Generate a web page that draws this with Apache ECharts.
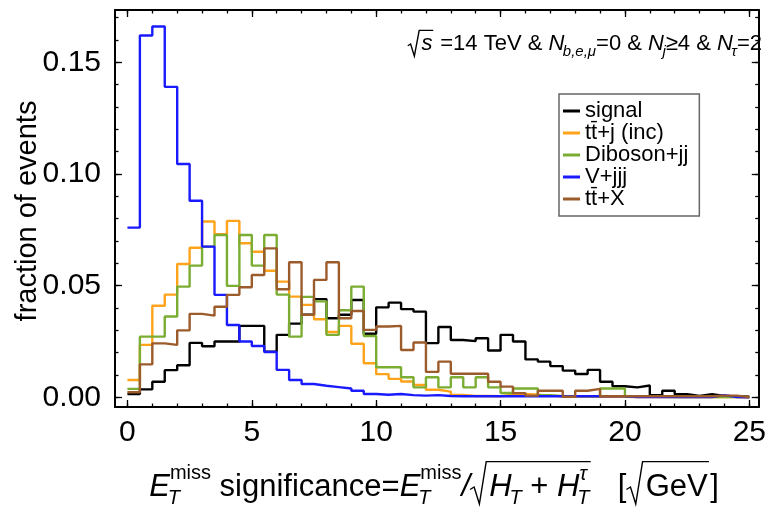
<!DOCTYPE html>
<html>
<head>
<meta charset="utf-8">
<script src="https://cdn.jsdelivr.net/npm/echarts@6/dist/echarts.min.js"></script>
<style>
html, body { margin: 0; padding: 0; background: #fff; }
#chart { width: 769px; height: 515px; }
</style>
</head>
<body>
<div id="chart"></div>
<script>
// histogram bins: 50 bins of width 0.5 starting at 0
const binWidth = 0.5;

const signal = [0.0015, 0.0036, 0.007, 0.0122, 0.0144, 0.0244, 0.0229, 0.025, 0.025, 0.032,
  0.032, 0.0205, 0.028, 0.033, 0.037, 0.044, 0.0354, 0.037, 0.0436, 0.0285,
  0.0403, 0.0424, 0.0395, 0.0384, 0.0243, 0.0315, 0.0257, 0.0252, 0.0265, 0.021,
  0.028, 0.025, 0.017, 0.016, 0.014, 0.012, 0.0105, 0.0123, 0.007, 0.005,
  0.0045, 0.0053, 0.001, 0.003, 0.0014, 0.0007, 0.0014, 0.0007, 0.0005, 0.0003];

const ttj = [0.0078, 0.0235, 0.041, 0.046, 0.0597, 0.067, 0.0787, 0.073, 0.079, 0.069,
  0.0652, 0.0567, 0.0518, 0.0451, 0.0414, 0.035, 0.0293, 0.032, 0.024, 0.0153,
  0.0104, 0.0083, 0.0071, 0.0056, 0.0034, 0.0026, 0.0011, 0.0006, 0.0006, 0.0005,
  0.0012, 0.0015, 0.0012, 0.0008, 0.0005, 0.0003, 0.0003, 0.0003, 0.0003, 0.0003,
  0.0002, 0.0002, 0.0002, 0.0002, 0.0002, 0.0001, 0.0001, 0.0001, 0.0001, 0];

const diboson = [0.0038, 0.0272, 0.0272, 0.0362, 0.0496, 0.059, 0.0675, 0.0727, 0.0499, 0.0727,
  0.059, 0.0727, 0.046, 0.0272, 0.045, 0.043, 0.028, 0.039, 0.0496, 0.0275,
  0.0135, 0.0135, 0.009, 0.0045, 0.009, 0.0045, 0.009, 0.0045, 0.009, 0.0045,
  0.002, 0.004, 0.004, 0.001, 0.0005, 0.0005, 0.0005, 0.0005, 0.004, 0.004,
  0.0003, 0.0003, 0.0003, 0.0002, 0.0002, 0.0002, 0.0002, 0.0002, 0.0002, 0.0001];

const vjjj = [0.076, 0.162, 0.166, 0.139, 0.1045, 0.088, 0.0675, 0.0459, 0.0324, 0.025,
  0.023, 0.0203, 0.0123, 0.0078, 0.006, 0.0052, 0.0046, 0.004, 0.003, 0.0015,
  0.0012, 0.0015, 0.001, 0.0008, 0.001, 0.0006, 0.0005, 0.0005, 0.0005, 0.0005,
  0.0005, 0.0005, 0.0005, 0.0005, 0.0005, 0.0005, 0.0005, 0.0005, 0.0005, 0.0005,
  0.0002, 0.0002, 0.0002, 0.0002, 0.0002, 0.0002, 0.0002, 0.001, 0.0002, 0];

const ttx = [0.0023, 0.0148, 0.0242, 0.0235, 0.030, 0.0374, 0.0366, 0.0406, 0.0459, 0.0493,
  0.0548, 0.0667, 0.0484, 0.0605, 0.037, 0.0526, 0.0605, 0.0354, 0.0387, 0.0302,
  0.0317, 0.032, 0.0212, 0.0246, 0.0114, 0.016, 0.0106, 0.0106, 0.0106, 0.007,
  0.0048, 0.0019, 0.0008, 0.003, 0.003, 0.0003, 0.003, 0.0038, 0.0005, 0.0005,
  0.0005, 0.0005, 0.0005, 0.0005, 0.0005, 0.0005, 0.0005, 0.0008, 0.0008, 0.0002];

const seriesNames = ['signal', 'tt\u0304+j (inc)', 'Diboson+jj', 'V+jjj', 'tt\u0304+X'];
const seriesColors = ['#000000', '#ffa31a', '#7aad32', '#1a1aff', '#9c5b2b'];
const seriesValues = [signal, ttj, diboson, vjjj, ttx];

const xMajor = [0, 5, 10, 15, 20, 25];
const xMinor = [0, 1, 2, 3, 4, 5, 6, 7, 8, 9, 10, 11, 12, 13, 14, 15, 16, 17, 18, 19, 20, 21, 22, 23, 24, 25];
const yMajor = [0, 0.05, 0.1, 0.15];
const yMinor = [0, 0.01, 0.02, 0.03, 0.04, 0.05, 0.06, 0.07, 0.08, 0.09, 0.1, 0.11, 0.12, 0.13, 0.14, 0.15, 0.16, 0.17];

const FONT = '"Liberation Sans", Arial, sans-serif';

// step outline: hold each bin value to the next edge, drop to 0 at the end
function stepData(vals) {
  const pts = vals.map((v, i) => [i * binWidth, v]);
  pts.push([vals.length * binWidth, 0]);
  return pts;
}

// --- small math-text layout for axis title and annotation ---
const ctx = document.createElement('canvas').getContext('2d');
function fontStr(size, it) { return (it ? 'italic ' : '') + size + 'px ' + FONT; }
function measure(t, size, it) { ctx.font = fontStr(size, it); return ctx.measureText(t).width; }

function mathText(tokens, size, anchorX, yc, align, radTop) {
  const parts = [];
  const rads = [];
  const subSize = Math.round(size * 0.66);
  let x = 0, radStart = 0;
  tokens.forEach(tk => {
    if (tk.rad === 'open') { radStart = x; x += size * 0.62; return; }
    if (tk.rad === 'close') { rads.push([radStart, x + size * 0.04]); x += size * 0.08; return; }
    parts.push({ t: tk.t, x: x, dy: 0, size: size, it: tk.it });
    x += measure(tk.t, size, tk.it);
    let extra = 0;
    if (tk.sub) {
      parts.push({ t: tk.sub, x: x - (tk.it ? size * 0.07 : 0), dy: size * 0.36, size: subSize, it: true });
      extra = Math.max(extra, measure(tk.sub, subSize, true) - (tk.it ? size * 0.07 : 0));
    }
    if (tk.sup) {
      parts.push({ t: tk.sup, x: x, dy: -size * 0.42, size: subSize, it: !!tk.supIt });
      extra = Math.max(extra, measure(tk.sup, subSize, !!tk.supIt));
    }
    x += extra;
  });
  const x0 = align === 'right' ? anchorX - x : (align === 'center' ? anchorX - x / 2 : anchorX);
  const els = parts.map(p => ({
    type: 'text',
    style: { text: p.t, x: x0 + p.x, y: yc + p.dy, font: fontStr(p.size, p.it), fill: '#000', align: 'left', verticalAlign: 'middle' }
  }));
  rads.forEach(r => {
    const a = x0 + r[0], b = x0 + r[1];
    els.push({
      type: 'polyline',
      shape: { points: [[a, yc + 0.08 * size], [a + 0.13 * size, yc], [a + 0.3 * size, yc + 0.55 * size], [a + 0.52 * size, yc - radTop * size], [b, yc - radTop * size]] },
      style: { stroke: '#000', lineWidth: 1.4, fill: null }
    });
  });
  return els;
}

const xTitle = mathText([
  { t: 'E', it: true, sub: 'T', sup: 'miss' },
  { t: ' significance=' },
  { t: 'E', it: true, sub: 'T', sup: 'miss' },
  { t: '/', it: true },
  { rad: 'open' },
  { t: 'H', it: true, sub: 'T' },
  { t: ' + ' },
  { t: 'H', it: true, sub: 'T', sup: '\u03c4', supIt: true },
  { rad: 'close' },
  { t: '   [' },
  { rad: 'open' },
  { t: 'GeV' },
  { rad: 'close' },
  { t: ']' }
], 31, 434, 487, 'center', 0.82);

const note = mathText([
  { rad: 'open' },
  { t: 's', it: true },
  { rad: 'close' },
  { t: ' =14 TeV & ' },
  { t: 'N', it: true, sub: 'b,e,\u03bc' },
  { t: '=0 & ' },
  { t: 'N', it: true, sub: 'j' },
  { t: '\u22654 & ' },
  { t: 'N', it: true, sub: '\u03c4' },
  { t: '=2' }
], 22, 762, 44, 'right', 0.62);

const chart = echarts.init(document.getElementById('chart'));

const frameLine = { show: true, onZero: false, lineStyle: { color: '#000', width: 2 } };
const noLine = { show: false, onZero: false };
function frameAxis(pos, ticks, len, labels, extra) {
  return Object.assign({
    type: 'value', position: pos, scale: true,
    axisLine: labels !== null ? frameLine : noLine,
    axisTick: { show: true, inside: true, length: len, customValues: ticks, lineStyle: { color: '#000', width: 1.3 } },
    axisLabel: labels ? labels : { show: false },
    splitLine: { show: false }
  }, extra);
}

const xRange = { min: -0.5, max: 25.38 };
const yRange = { min: -0.0043, max: 0.1734 };

const option = {
  animation: false,
  backgroundColor: '#fff',
  grid: { left: 115, right: 7, top: 10, bottom: 108 },
  xAxis: [
    frameAxis('bottom', xMajor, 7, { show: true, customValues: xMajor, color: '#000', fontSize: 30, fontFamily: FONT, margin: 11 }, xRange),
    frameAxis('bottom', xMinor, 3.5, null, xRange),
    frameAxis('top', xMajor, 7, false, xRange),
    frameAxis('top', xMinor, 3.5, null, xRange)
  ],
  yAxis: [
    frameAxis('left', yMajor, 7, { show: true, customValues: yMajor, color: '#000', fontSize: 30, fontFamily: FONT, margin: 14, formatter: v => v.toFixed(2) }, yRange),
    frameAxis('left', yMinor, 3.5, null, yRange),
    frameAxis('right', yMajor, 7, false, yRange),
    frameAxis('right', yMinor, 3.5, null, yRange)
  ],
  legend: {
    orient: 'vertical', left: 559, top: 94,
    padding: [6, 11, 6, 4],
    itemWidth: 17, itemHeight: 3, itemGap: 0,
    icon: 'rect',
    borderColor: '#666', borderWidth: 1.5, backgroundColor: '#fff',
    textStyle: { fontFamily: FONT, fontSize: 22, lineHeight: 21.7, color: '#000' },
    data: seriesNames
  },
  graphic: [
    {
      type: 'text', rotation: Math.PI / 2, x: 28, y: 211,
      style: { text: 'fraction of events', font: '29px ' + FONT, fill: '#000', align: 'center', verticalAlign: 'middle' }
    }
  ].concat(xTitle, note),
  series: seriesValues.map((vals, i) => ({
    name: seriesNames[i],
    type: 'line',
    step: 'end',
    symbol: 'none',
    color: seriesColors[i],
    lineStyle: { width: 2.4, color: seriesColors[i] },
    data: stepData(vals)
  }))
};

chart.setOption(option);
</script>
</body>
</html>
